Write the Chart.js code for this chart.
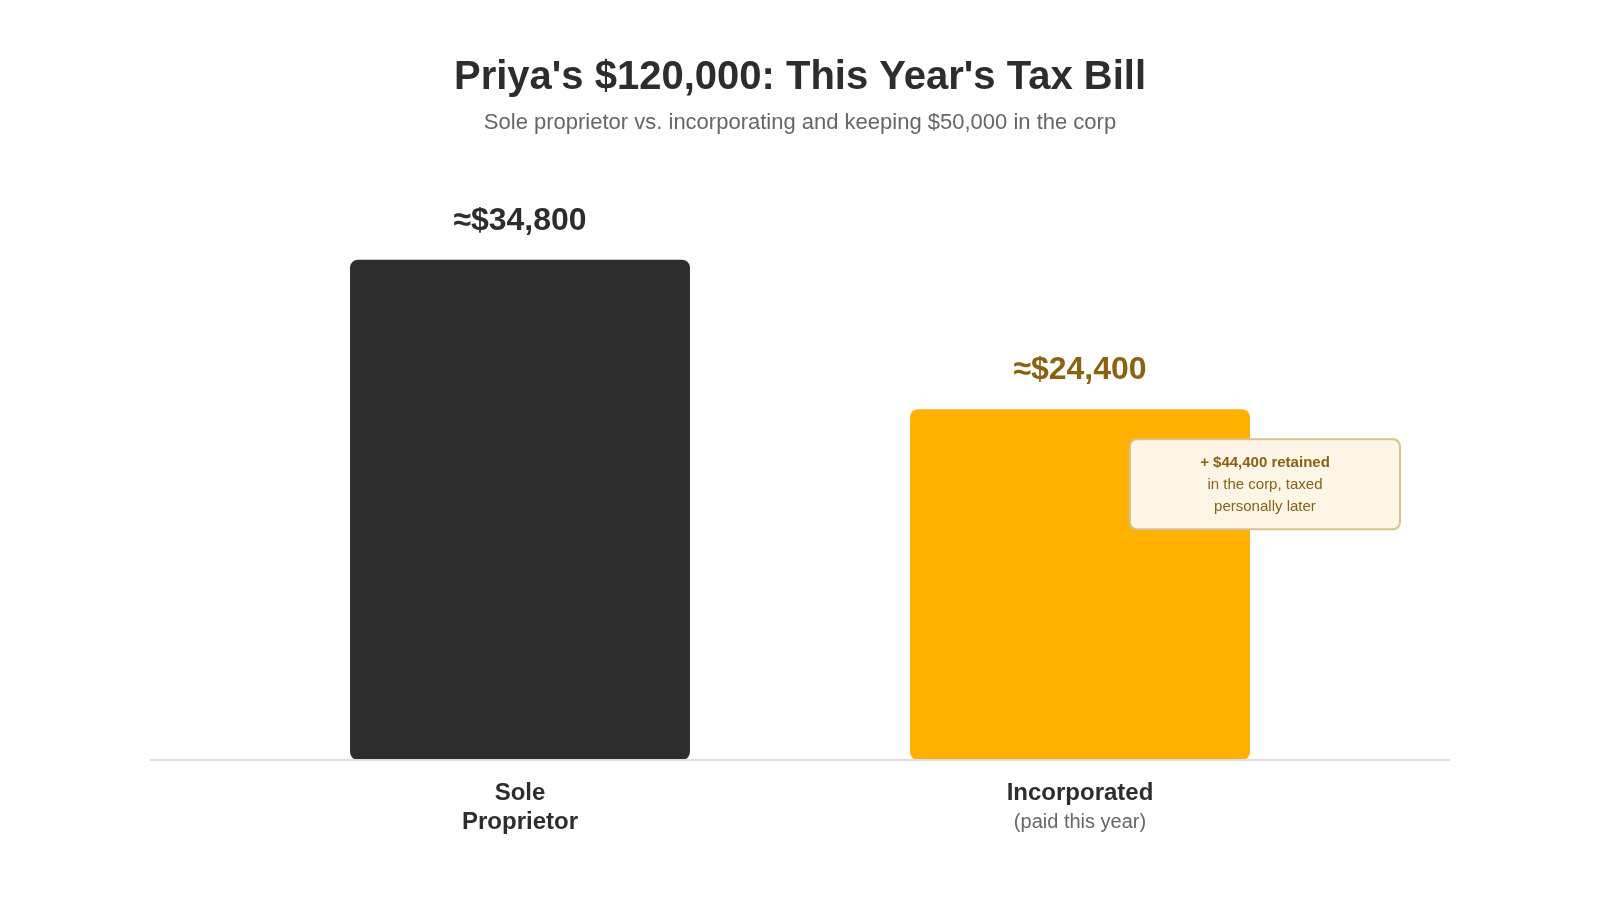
<!DOCTYPE html>
<html>
<head>
<meta charset="utf-8">
<script src="https://cdn.jsdelivr.net/npm/chart.js@4/dist/chart.umd.min.js"></script>
<style>
  body { margin: 0; background: #ffffff; }
  #wrap { width: 1600px; height: 900px; }
</style>
</head>
<body>
<div id="wrap"><canvas id="taxChart" width="1600" height="900"></canvas></div>
<script>
// Datos
const categories = ['Sole Proprietor', 'Incorporated'];
const categoryLines = [['Sole', 'Proprietor'], ['Incorporated', '(paid this year)']];
const taxPaid = [34800, 24400];
const valueLabels = ['≈$34,800', '≈$24,400'];
const barColors = ['#2d2d2d', '#ffb000'];
const labelColors = ['#2d2d2d', '#8a6212'];
const retainedNote = ['+ $44,400 retained', 'in the corp, taxed', 'personally later'];

const FONT = '"Liberation Sans", Arial, Helvetica, sans-serif';

// Etiquetas de valor, categorias, linea base y nota
const decorPlugin = {
    id: 'decor',
    afterDatasetsDraw(chart) {
        const ctx = chart.ctx;
        const xScale = chart.scales.x;
        const yScale = chart.scales.y;
        const area = chart.chartArea;

        // linea base
        ctx.save();
        ctx.strokeStyle = '#dddddd';
        ctx.lineWidth = 2;
        ctx.beginPath();
        ctx.moveTo(150, area.bottom);
        ctx.lineTo(1450, area.bottom);
        ctx.stroke();

        // valores sobre las barras
        ctx.textAlign = 'center';
        ctx.textBaseline = 'middle';
        taxPaid.forEach((v, i) => {
            const x = xScale.getPixelForValue(i);
            const y = yScale.getPixelForValue(v);
            ctx.font = 'bold 32px ' + FONT;
            ctx.fillStyle = labelColors[i];
            ctx.fillText(valueLabels[i], x, y - 39);
        });

        // categorias
        categoryLines.forEach((lines, i) => {
            const x = xScale.getPixelForValue(i);
            lines.forEach((line, j) => {
                const secondary = i === 1 && j === 1;
                ctx.font = (secondary ? '20px ' : 'bold 24px ') + FONT;
                ctx.fillStyle = secondary ? '#666666' : '#2d2d2d';
                ctx.fillText(line, x, area.bottom + 33 + j * 29);
            });
        });

        // nota de lo retenido
        const meta = chart.getDatasetMeta(0).data[1];
        const bx = meta.x + meta.width / 2 - 120;
        const by = yScale.getPixelForValue(taxPaid[1]) + 30;
        const bw = 270, bh = 90;
        ctx.beginPath();
        ctx.roundRect(bx, by, bw, bh, 7);
        ctx.fillStyle = '#fdf6e6';
        ctx.fill();
        ctx.lineWidth = 2;
        ctx.strokeStyle = '#d9c18e';
        ctx.stroke();
        ctx.fillStyle = '#8a6212';
        retainedNote.forEach((t, j) => {
            ctx.font = (j === 0 ? 'bold 15px ' : '15px ') + FONT;
            ctx.fillText(t, bx + bw / 2, by + 24 + j * 22);
        });
        ctx.restore();
    }
};

const ctx = document.getElementById('taxChart').getContext('2d');
const chart = new Chart(ctx, {
    type: 'bar',
    data: {
        labels: categories,
        datasets: [{
            data: taxPaid,
            backgroundColor: barColors,
            borderRadius: 8,
            borderSkipped: false,
            barPercentage: 0.607,
            categoryPercentage: 1
        }]
    },
    options: {
        responsive: false,
        animation: false,
        devicePixelRatio: 1,
        layout: { padding: { top: 0, left: 240, right: 240, bottom: 140 } },
        scales: {
            x: { display: false },
            y: { display: false, min: 0, max: 40000 }
        },
        plugins: {
            legend: { display: false },
            tooltip: { enabled: false },
            title: {
                display: true,
                text: "Priya's $120,000: This Year's Tax Bill",
                color: '#2d2d2d',
                font: { family: FONT, size: 40, weight: 'bold' },
                padding: { top: 53.5, bottom: 4 }
            },
            subtitle: {
                display: true,
                text: 'Sole proprietor vs. incorporating and keeping $50,000 in the corp',
                color: '#666666',
                font: { family: FONT, size: 22 },
                padding: { top: 4.3, bottom: 48.8 }
            }
        }
    },
    plugins: [decorPlugin]
});
</script>
</body>
</html>
